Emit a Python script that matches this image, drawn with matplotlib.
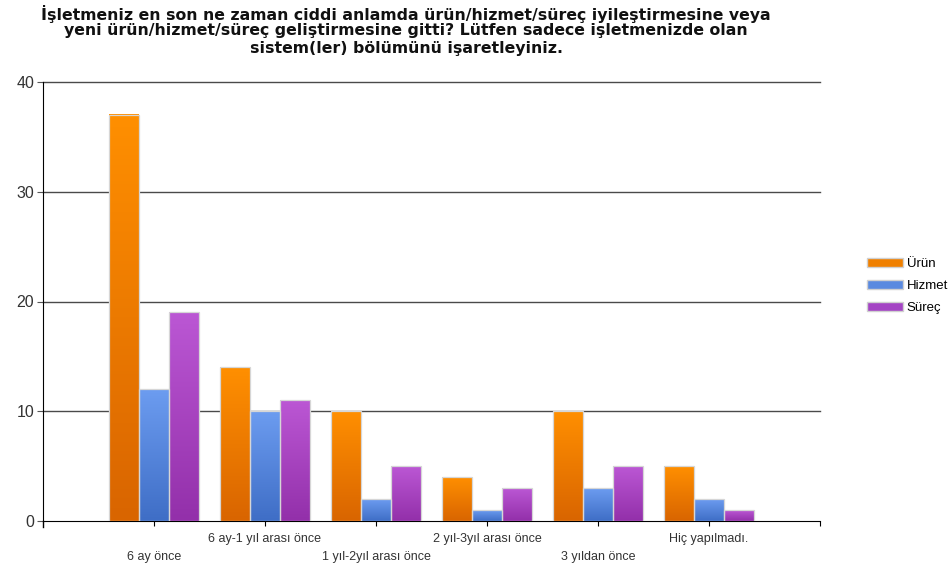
import numpy as np
import matplotlib
matplotlib.use('Agg')
import matplotlib.pyplot as plt
from matplotlib.colors import LinearSegmentedColormap
from matplotlib.patches import Patch

plt.rcParams['font.family'] = ['Liberation Sans', 'DejaVu Sans']

# veriler
kategoriler = ['6 ay önce', '6 ay-1 yıl arası önce', '1 yıl-2yıl arası önce',
               '2 yıl-3yıl arası önce', '3 yıldan önce', 'Hiç yapılmadı.']
seriler = ['Ürün', 'Hizmet', 'Süreç']
urun = [37, 14, 10, 4, 10, 5]
hizmet = [12, 10, 2, 1, 3, 2]
surec = [19, 11, 5, 3, 5, 1]
y_ticks = [0, 10, 20, 30, 40]

baslik = ['İşletmeniz en son ne zaman ciddi anlamda ürün/hizmet/süreç iyileştirmesine veya',
          'yeni ürün/hizmet/süreç geliştirmesine gitti? Lütfen sadece işletmenizde olan',
          'sistem(ler) bölümünü işaretleyiniz.']

# renkler: (ust, alt, lejant)
renkler = [('#ff8f00', '#d96500', '#f08000'),
           ('#6c9cf0', '#3f6ec6', '#5a8ae0'),
           ('#bb57d4', '#9330aa', '#a444c4')]

fig = plt.figure(figsize=(9.52, 5.65), dpi=100)
ax = fig.add_axes([43/952, 1-521/565, 777/952, 439/565])

x = np.arange(1, len(kategoriler) + 1)
genislik = 0.265
kaydir = [-0.27, 0, 0.27]
grad = np.linspace(0, 1, 100).reshape(-1, 1)

for i, degerler in enumerate([urun, hizmet, surec]):
    ust, alt, _ = renkler[i]
    cmap = LinearSegmentedColormap.from_list('g%d' % i, [ust, alt])
    barlar = ax.bar(x + kaydir[i], degerler, genislik, facecolor='none',
                    edgecolor='#d6d6d6', linewidth=0.9, zorder=4)
    for b in barlar:
        x0 = b.get_x()
        h = b.get_height()
        ax.imshow(grad, extent=[x0, x0 + genislik, 0, h], cmap=cmap,
                  aspect='auto', zorder=3, interpolation='bilinear')

ax.set_xlim(0, 7)
ax.set_ylim(0, 40)

for yy in y_ticks[1:]:
    ax.axhline(yy, color='#4a4a4a', linewidth=1, zorder=1, clip_on=False)

ax.spines['top'].set_visible(False)
ax.spines['right'].set_visible(False)
ax.spines['left'].set_color('black')
ax.spines['bottom'].set_color('black')
ax.plot([0, 0], [-0.55, 0], color='black', linewidth=1, clip_on=False)

ax.set_yticks(y_ticks)
ax.tick_params(axis='y', length=4.3, color='#555555', labelsize=11.5,
               labelcolor='#333333', pad=2)
ax.set_xticks(list(x) + [7])
ax.set_xticklabels(kategoriler + [''])
ax.tick_params(axis='x', length=3.6, color='black', labelsize=9,
               labelcolor='#333333')
for i, t in enumerate(ax.xaxis.get_major_ticks()):
    t.set_pad(18 if i % 2 == 0 else 4.8)

for i, satir in enumerate(baslik):
    fig.text(406/952, 1-(14 + 17*i)/565, satir, ha='center', va='center',
             fontsize=11.3, fontweight='bold', color='#111111',
             family=['DejaVu Sans'])

handles = [Patch(facecolor=r[2], edgecolor='#d0d0d0') for r in renkler]
ax.legend(handles, seriler, loc='center left', bbox_to_anchor=(867/952, 1-286/565),
          bbox_transform=fig.transFigure, frameon=False, fontsize=9.5,
          borderpad=0, borderaxespad=0,
          handlelength=2.7, handleheight=0.7, labelspacing=0.75, handletextpad=0.3)

fig.savefig('out.png', dpi=100)
